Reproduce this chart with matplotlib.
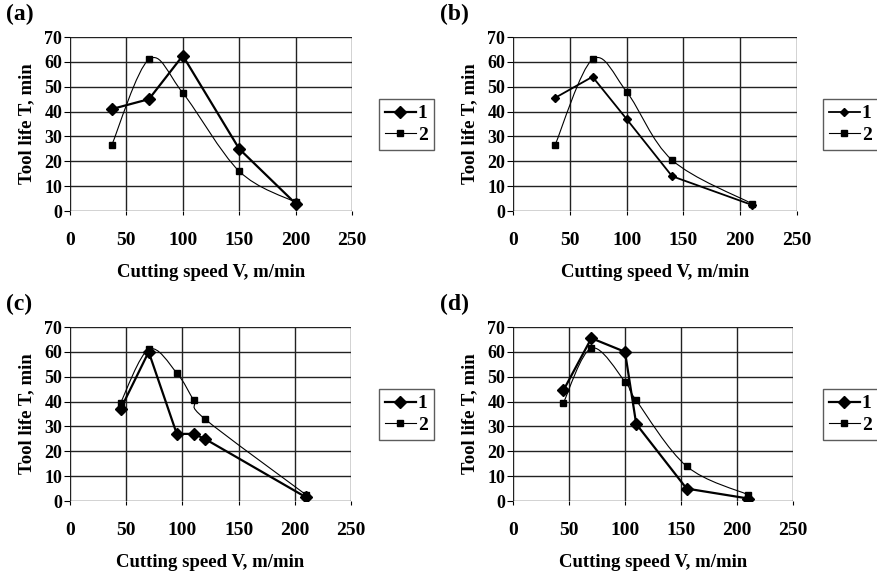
# tool life vs cutting speed, four panels, excel-style look
import matplotlib.pyplot as plt
from matplotlib.path import Path
from matplotlib.patches import PathPatch
from matplotlib.lines import Line2D

plt.rcParams['font.family'] = ['Liberation Serif', 'DejaVu Serif']
plt.rcParams['font.weight'] = 'bold'

panels = ['(a)', '(b)', '(c)', '(d)']

# series 1 (diamonds, straight lines)
v1_a = [37, 70, 100, 150, 200]
t1_a = [41, 45, 62.5, 25, 3]
v1_b = [37, 70, 100, 140, 210]
t1_b = [45.5, 54, 37, 14, 2.5]
v1_c = [45, 70, 95, 110, 120, 210]
t1_c = [37, 60, 27, 27, 25, 1.5]
v1_d = [45, 70, 100, 110, 155, 210]
t1_d = [44.5, 65.5, 60, 31, 5, 1]

# series 2 (squares, smoothed)
v2_a = [37, 70, 100, 150, 200]
t2_a = [26.5, 61, 47.5, 16, 3.5]
v2_b = [37, 70, 100, 140, 210]
t2_b = [26.5, 61, 48, 20.5, 3]
v2_c = [45, 70, 95, 110, 120, 210]
t2_c = [39.5, 61, 51.5, 40.5, 33, 2.5]
v2_d = [45, 70, 100, 110, 155, 210]
t2_d = [39.5, 61.5, 48, 40.5, 14, 2.5]

s1 = [(v1_a, t1_a), (v1_b, t1_b), (v1_c, t1_c), (v1_d, t1_d)]
s2 = [(v2_a, t2_a), (v2_b, t2_b), (v2_c, t2_c), (v2_d, t2_d)]

xticks = [0, 50, 100, 150, 200, 250]
yticks = [0, 10, 20, 30, 40, 50, 60, 70]


def smooth_path(x, y):
    # bezier through the points, like excel's smoothed line
    pts = list(zip(x, y))
    verts = [pts[0]]
    codes = [Path.MOVETO]
    n = len(pts)
    for i in range(n - 1):
        p0 = pts[i - 1] if i > 0 else pts[i]
        p1 = pts[i]
        p2 = pts[i + 1]
        p3 = pts[i + 2] if i + 2 < n else pts[i + 1]
        c1 = (p1[0] + (p2[0] - p0[0]) / 6, p1[1] + (p2[1] - p0[1]) / 6)
        c2 = (p2[0] - (p3[0] - p1[0]) / 6, p2[1] - (p3[1] - p1[1]) / 6)
        verts += [c1, c2, p2]
        codes += [Path.CURVE4] * 3
    return Path(verts, codes)


fig = plt.figure(figsize=(8.77, 5.73), dpi=100)
W, H = 877, 573

# plot area boxes in pixels: left, top, right, bottom
boxes = [(70, 37, 352, 211), (513, 37, 797, 211),
         (70, 327, 351, 501), (513, 327, 793, 501)]
legpos = [(379, 99), (823, 99), (379, 389), (823, 389)]
labpos = [(6, 14), (440, 14), (6, 304), (440, 304)]

for k in range(4):
    l, t, r, b = boxes[k]
    ax = fig.add_axes([l / W, 1 - b / H, (r - l) / W, (b - t) / H])
    ax.set_xlim(0, 250)
    ax.set_ylim(0, 70)
    ax.set_xticks(xticks)
    ax.set_yticks(yticks)
    ax.grid(True, color='#222222', lw=1.0)
    ax.set_axisbelow(True)
    for sp in ax.spines.values():
        sp.set_visible(False)
    ax.tick_params(axis='x', length=3, width=0.8, pad=12, labelsize=14)
    ax.tick_params(axis='y', length=4, width=0.8, pad=1.5, labelsize=13)
    ax.set_xlabel('Cutting speed V, m/min', fontsize=13.5, fontweight='bold', labelpad=11)
    ax.set_ylabel('Tool life T, min', fontsize=13.5, fontweight='bold', labelpad=7)

    x2, y2 = s2[k]
    ax.add_patch(PathPatch(smooth_path(x2, y2), fill=False, lw=0.8, color='black'))
    ax.plot(x2, y2, ls='none', marker='s', ms=5, color='black')

    x1, y1 = s1[k]
    if k == 1:
        ax.plot(x1, y1, color='black', lw=1.3, marker='D', ms=4)
    else:
        ax.plot(x1, y1, color='black', lw=1.6, marker='D', ms=6.5)

    fig.text(labpos[k][0] / W, 1 - labpos[k][1] / H, panels[k], fontsize=17,
             fontweight='bold', va='center', ha='left')

    h1 = Line2D([], [], color='black', lw=1.6 if k != 1 else 1.3, marker='D',
                ms=6.5 if k != 1 else 4)
    h2 = Line2D([], [], color='black', lw=0.8, marker='s', ms=5)
    lx, ly = legpos[k]
    fig.legend([h1, h2], ['1', '2'], loc='upper left',
               bbox_to_anchor=(lx / W, 1 - ly / H), fontsize=14,
               frameon=True, fancybox=False, edgecolor='#333333',
               handlelength=1.6, handletextpad=0.1, borderpad=0.3,
               labelspacing=0.2, borderaxespad=0)

fig.savefig('out.png', dpi=100)
